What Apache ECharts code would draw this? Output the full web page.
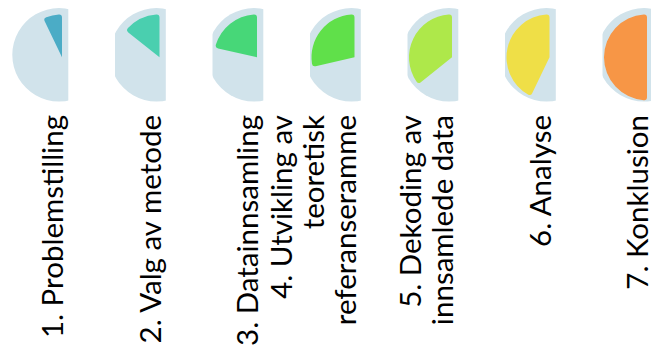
<!DOCTYPE html>
<html><head><meta charset="utf-8">
<script src="https://cdn.jsdelivr.net/npm/echarts@6/dist/echarts.min.js"></script>
<style>html,body{margin:0;padding:0;background:#fff}#c{width:651px;height:351px}</style>
</head><body><div id="c"></div>
<script>
// ---- data ----
const categories = ['1. Problemstilling', '2. Valg av metode', '3. Datainnsamling',
  '4. Utvikling av\nteoretisk\nreferanseramme', '5. Dekoding av\ninnsamlede data',
  '6. Analyse', '7. Konklusion'];
const progress = [1, 2, 3, 4, 5, 6, 7];
const totalSteps = 7;
const colors = ['#4BACC6', '#4ACFAF', '#47D778', '#60E04A', '#AEE84A', '#EFDF47', '#F79646'];

// ---- layout ----
const x0 = 59, step = 97.5, bgCy = 54.8, bgR = 46.7;
const wDx = 3, wDy = 2.5, wR = 43, clipDx = 9.3;
const labelDx = 8.5;
const FONT = 'Lato';

const series = [];
const graphics = [];
progress.forEach((p, i) => {
  const cx = x0 + i * step;
  series.push({
    type: 'pie', center: [cx, bgCy], radius: bgR, silent: true, z: 1,
    label: { show: false }, labelLine: { show: false },
    emphasis: { disabled: true },
    data: [{ value: 1, itemStyle: { color: '#D1E3EB' } }]
  });
  series.push({
    type: 'pie', center: [cx + wDx, bgCy + wDy], radius: wR, silent: true, z: 2,
    startAngle: 90, clockwise: false,
    label: { show: false }, labelLine: { show: false },
    emphasis: { disabled: true },
    itemStyle: { borderRadius: 3 },
    data: [
      { value: p, itemStyle: { color: colors[i] } },
      { value: 2 * totalSteps - p, itemStyle: { color: 'rgba(0,0,0,0)' } }
    ]
  });
  graphics.push({
    type: 'rect', z: 100, silent: true,
    shape: { x: cx + clipDx, y: 0, width: bgR, height: bgCy + bgR + 3 },
    style: { fill: '#ffffff' }
  });
});

const chart = echarts.init(document.getElementById('c'), null, { renderer: 'svg' });
chart.setOption({
  animation: false,
  backgroundColor: '#ffffff',
  grid: {
    left: x0 + labelDx - step / 2, width: categories.length * step, top: 0, height: 107,
    outerBoundsMode: 'none', containLabel: false
  },
  xAxis: {
    type: 'category', data: categories, position: 'bottom',
    axisLine: { show: false }, axisTick: { show: false }, splitLine: { show: false },
    axisLabel: {
      interval: 0, rotate: 90, margin: 8, verticalAlign: 'bottom', hideOverlap: false,
      fontFamily: FONT, fontSize: 29.5, lineHeight: 32, color: '#000'
    }
  },
  yAxis: { type: 'value', show: false },
  graphic: graphics,
  series: series
});
</script></body></html>
